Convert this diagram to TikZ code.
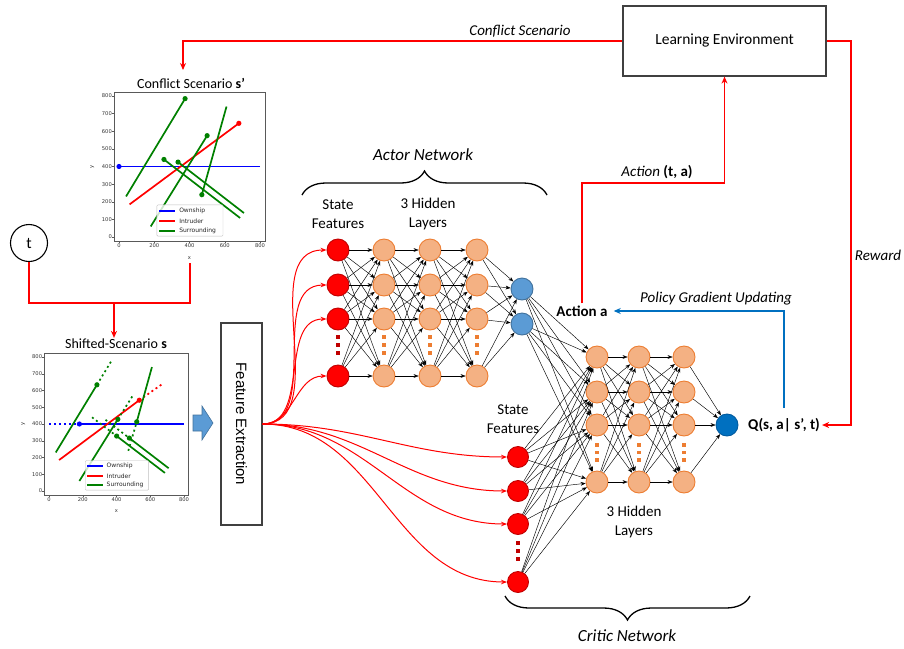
\documentclass[tikz,border=0pt]{standalone}
\usepackage{fontspec}
\setmainfont{Carlito}
\newfontfamily\plotfont{DejaVu Sans}
\newfontfamily\boxfont{Liberation Sans}
\usetikzlibrary{arrows.meta,decorations.pathreplacing}

\definecolor{hidfill}{HTML}{F4B183}
\definecolor{hiddraw}{HTML}{ED7D31}
\definecolor{inpdraw}{HTML}{C00000}
\definecolor{actfill}{HTML}{5B9BD5}
\definecolor{actdraw}{HTML}{41719C}
\definecolor{qfill}{HTML}{0070C0}
\definecolor{qdraw}{HTML}{005A9E}
\definecolor{mplgreen}{rgb}{0,0.5,0}
\definecolor{boxline}{HTML}{404040}

\tikzset{
  neuron/.style={circle, minimum size=22pt, inner sep=0pt, line width=0.9pt},
  hid/.style={neuron, fill=hidfill, draw=hiddraw},
  inp/.style={neuron, fill=red, draw=inpdraw},
  outa/.style={neuron, fill=actfill, draw=actdraw},
  outq/.style={neuron, fill=qfill, draw=qdraw},
  wire/.style={line width=0.45pt, black, -{Stealth[length=5pt,width=3.8pt]}},
  feed/.style={red, line width=1pt, -{Stealth[length=6pt,width=4.5pt]}},
  link/.style={red, line width=1.2pt},
  linkarrow/.style={link, -{Stealth[length=7pt,width=6pt]}},
  policy/.style={qfill, line width=1.6pt, -{Stealth[length=7pt,width=6pt]}},
  lbl/.style={font=\fontsize{15}{19}\selectfont, align=center, inner sep=2pt},
  netname/.style={font=\fontsize{17}{20}\selectfont\itshape},
  brace/.style={decorate, decoration={brace, amplitude=24pt}, line width=1.3pt},
  plottitle/.style={font=\fontsize{14}{16}\selectfont, inner sep=1pt},
  spine/.style={black!65, line width=0.5pt},
  tick/.style={font=\plotfont\fontsize{5.2}{6}\selectfont, text=black!80, inner sep=0.5pt},
  legtext/.style={font=\plotfont\fontsize{6}{7}\selectfont, text=black!85, inner sep=0.5pt},
  legendframe/.style={draw=black!25, fill=white, fill opacity=0.8, line width=0.4pt, rounded corners=1pt},
  trace/.style={line width=1.7pt},
  ghost/.style={line width=1.7pt, dash pattern=on 2pt off 3pt},
}

% axes, ticks and legend of one scenario plot (data coordinates)
\newcommand{\scenarioaxes}[1]{%
  \draw[spine] (-28,-24) rectangle (828,822);
  \foreach \v in {0,200,400,600,800}{%
    \draw[spine] (\v,-24) -- ++(0,-2pt);
    \node[tick, below=1.5pt] (#1tx\v) at (\v,-24) {\v};}
  \foreach \v in {0,100,...,800}{%
    \draw[spine] (-28,\v) -- ++(-2pt,0);
    \node[tick, left=1.5pt] (#1ty\v) at (-28,\v) {\v};}
  \node[tick] (#1xl) at (400,-118) {x};
  \node[tick, rotate=90] (#1yl) at (-152,400) {y};
}
\newcommand{\scenariolegend}[1]{%
  \draw[legendframe] (215,5) rectangle (590,182);
  \draw[blue, trace] (228,148) -- (318,148);
  \draw[red, trace] (228,91) -- (318,91);
  \draw[mplgreen, trace] (228,36) -- (318,36);
  \node[legtext, anchor=west] (#1lo) at (338,148) {Ownship};
  \node[legtext, anchor=west] (#1li) at (338,91) {Intruder};
  \node[legtext, anchor=west] (#1ls) at (338,36) {Surrounding};
}

\begin{document}
\begin{tikzpicture}[x=1pt, y=-1pt]
\useasboundingbox (0,0) rectangle (904,648);

% ---------------- conflict scenario plot ----------------
\node[plottitle] (ctitle) at (191,83) {Conflict Scenario \textbf{s’}};
\begin{scope}[shift={(119,237)}, x=0.17625pt, y=0.17625pt]
  \scenarioaxes{c}
  \draw[blue, trace] (0,400) -- (800,400);
  \fill[blue] (0,400) circle (2.6pt);
  \draw[red, trace] (60,185) -- (680,645);
  \fill[red] (680,645) circle (2.6pt);
  \draw[mplgreen, trace] (40,230) -- (375,785);
  \draw[mplgreen, trace] (180,60) -- (500,575);
  \draw[mplgreen, trace] (470,240) -- (610,740);
  \draw[mplgreen, trace] (255,440) -- (687,108);
  \draw[mplgreen, trace] (335,425) -- (709,136);
  \foreach \p in {(375,785),(500,575),(470,240),(255,440),(335,425)}
    \fill[mplgreen] \p circle (2.6pt);
  \scenariolegend{c}
\end{scope}

% ---------------- shifted scenario plot ----------------
\node[plottitle] (stitle) at (116,344) {Shifted-Scenario \textbf{s}};
\begin{scope}[shift={(49,491)}, x=0.16875pt, y=0.1675pt]
  \scenarioaxes{s}
  \draw[blue, ghost] (0,400) -- (180,400);
  \draw[blue, trace] (180,400) -- (800,400);
  \fill[blue] (180,400) circle (2.6pt);
  \draw[red, trace] (60,185) -- (535,542);
  \draw[red, ghost] (535,542) -- (680,645);
  \fill[red] (535,542) circle (2.6pt);
  \draw[mplgreen, trace] (40,230) -- (284,634);
  \draw[mplgreen, ghost] (284,634) -- (375,785);
  \draw[mplgreen, trace] (180,60) -- (408,428);
  \draw[mplgreen, ghost] (408,428) -- (500,575);
  \draw[mplgreen, ghost] (470,240) -- (520,413);
  \draw[mplgreen, trace] (520,413) -- (610,740);
  \draw[mplgreen, ghost] (255,440) -- (401,328);
  \draw[mplgreen, trace] (401,328) -- (687,108);
  \draw[mplgreen, ghost] (335,425) -- (476,316);
  \draw[mplgreen, trace] (476,316) -- (709,136);
  \foreach \p in {(284,634),(408,428),(520,413),(401,328),(476,316)}
    \fill[mplgreen] \p circle (2.6pt);
  \scenariolegend{s}
\end{scope}

% ---------------- time node and scenario shift ----------------
\node[circle, draw, line width=1.1pt, minimum size=37pt, inner sep=0pt,
      font=\fontsize{16}{18}\selectfont] (tnode) at (29,243) {t};
\coordinate (tjoin) at (114,303);
\coordinate (cplotbottom) at (190,263);
\draw[link] (tnode.south) |- (cplotbottom |- tjoin) -- (cplotbottom);
\draw[linkarrow] (tjoin) -- (tjoin |- stitle.north);

% ---------------- feature extraction ----------------
\draw[actdraw, fill=actfill, line width=0.6pt]
  (193,415) -- (202,415) -- (202,406) -- (213,423) -- (202,440) -- (202,431) -- (193,431) -- cycle;
\node[draw=boxline, line width=1.1pt, minimum width=41pt, minimum height=202pt, inner sep=0pt,
      font=\boxfont\fontsize{15}{18}\selectfont] (fe) at (241.5,424)
  {\rotatebox{-90}{Feature Extraction}};

% ---------------- actor network ----------------
\foreach \i/\y in {1/250,2/285,3/319,4/376}{
  \node[inp] (ai\i) at (338,\y) {};
  \node[hid] (ah\i) at (384,\y) {};
  \node[hid] (bh\i) at (430,\y) {};
  \node[hid] (gh\i) at (477,\y) {};
}
\node[outa] (ao1) at (522,289) {};
\node[outa] (ao2) at (522,324) {};

% ---------------- critic network ----------------
\foreach \i/\y in {1/457,2/491,3/524,4/582}
  \node[inp, minimum size=21pt] (ci\i) at (518,\y) {};
\foreach \i/\y in {1/357,2/392,3/425,4/482}{
  \node[hid] (ch\i) at (597,\y) {};
  \node[hid] (dh\i) at (639,\y) {};
  \node[hid] (eh\i) at (684,\y) {};
}
\node[outq] (q) at (727,425) {};

% ---------------- weights ----------------
\foreach \a in {1,...,4}{
  \foreach \b in {1,...,4}{
    \draw[wire] (ai\a) -- (ah\b);
    \draw[wire] (ah\a) -- (bh\b);
    \draw[wire] (bh\a) -- (gh\b);
    \draw[wire] (ci\a) -- (ch\b);
    \draw[wire] (ch\a) -- (dh\b);
    \draw[wire] (dh\a) -- (eh\b);
  }
  \draw[wire] (gh\a) -- (ao1);
  \draw[wire] (gh\a) -- (ao2);
  \draw[wire] (ao1) -- (ch\a);
  \draw[wire] (ao2) -- (ch\a);
  \draw[wire] (eh\a) -- (q);
}

% ellipsis marks in the layers
\foreach \x in {384,430,477}
  \foreach \y in {337,345,353}
    \fill[hiddraw] (\x-1.7,\y-1.7) rectangle ++(3.4,3.4);
\foreach \y in {337,345,353}
  \fill[inpdraw] (338-1.8,\y-1.8) rectangle ++(3.6,3.6);
\foreach \x in {597,639,684}
  \foreach \y in {445,452.5,460}
    \fill[hiddraw] (\x-1.7,\y-1.7) rectangle ++(3.4,3.4);
\foreach \y in {543,551,559}
  \fill[inpdraw] (518-1.8,\y-1.8) rectangle ++(3.6,3.6);

% ---------------- state features into both networks ----------------
\foreach \i in {1,...,4}{
  \draw[feed] (fe.east) to[out=0, in=180] (ai\i);
  \draw[feed] (fe.east) to[out=0, in=180] (ci\i);
}

% ---------------- layer labels and braces ----------------
\node[lbl] (asf) at (338,214) {State\\Features};
\node[lbl] (ahl) at (428,214) {3 Hidden\\Layers};
\node[lbl] (csf) at (513,419) {State\\Features};
\node[lbl] (chl) at (634,522) {3 Hidden\\Layers};
\draw[brace] (302,195) -- (547,195);
\node[netname] (actorname) at (423,155) {Actor Network};
\draw[brace] (750,596) -- (505,596);
\node[netname] (criticname) at (627,636) {Critic Network};

% ---------------- environment loop ----------------
\node[draw=boxline, line width=1.2pt, minimum width=203pt, minimum height=70pt,
      font=\fontsize{15.5}{18}\selectfont] (le) at (724.5,41) {\raisebox{4pt}{Learning Environment}};
\node[lbl, font=\fontsize{15}{19}\selectfont\bfseries] (acta) at (582,311) {Action a};
\node[lbl, font=\fontsize{15}{19}\selectfont\bfseries, anchor=west] (qtext) at (746,425) {Q(s, a| s’, t)};

\coordinate (cturn) at (183,41);
\coordinate (cend) at (183,70);
\draw[linkarrow] (le.west) -- (cturn) -- (cend);
\node[lbl, font=\fontsize{15}{19}\selectfont\itshape] (cslabel) at (520,31) {Conflict Scenario};

\coordinate (aturn) at (582,183);
\draw[linkarrow] (acta.north) -- (aturn) -| (le.south);
\node[lbl] (atlabel) at (657,172) {\textit{Action} \textbf{(t, a)}};

\coordinate (rturn) at (851,425);
\draw[linkarrow] (le.east) -| (rturn) -- (qtext.east);
\node[lbl, font=\fontsize{15}{19}\selectfont\itshape] (rwlabel) at (878,255) {Reward};

\coordinate (pstart) at (784,408);
\draw[policy, shorten >=4pt] (pstart) |- (acta.east);
\node[lbl, font=\fontsize{15}{19}\selectfont\itshape] (pglabel) at (716,299) {Policy Gradient Updating};
\end{tikzpicture}
\end{document}
